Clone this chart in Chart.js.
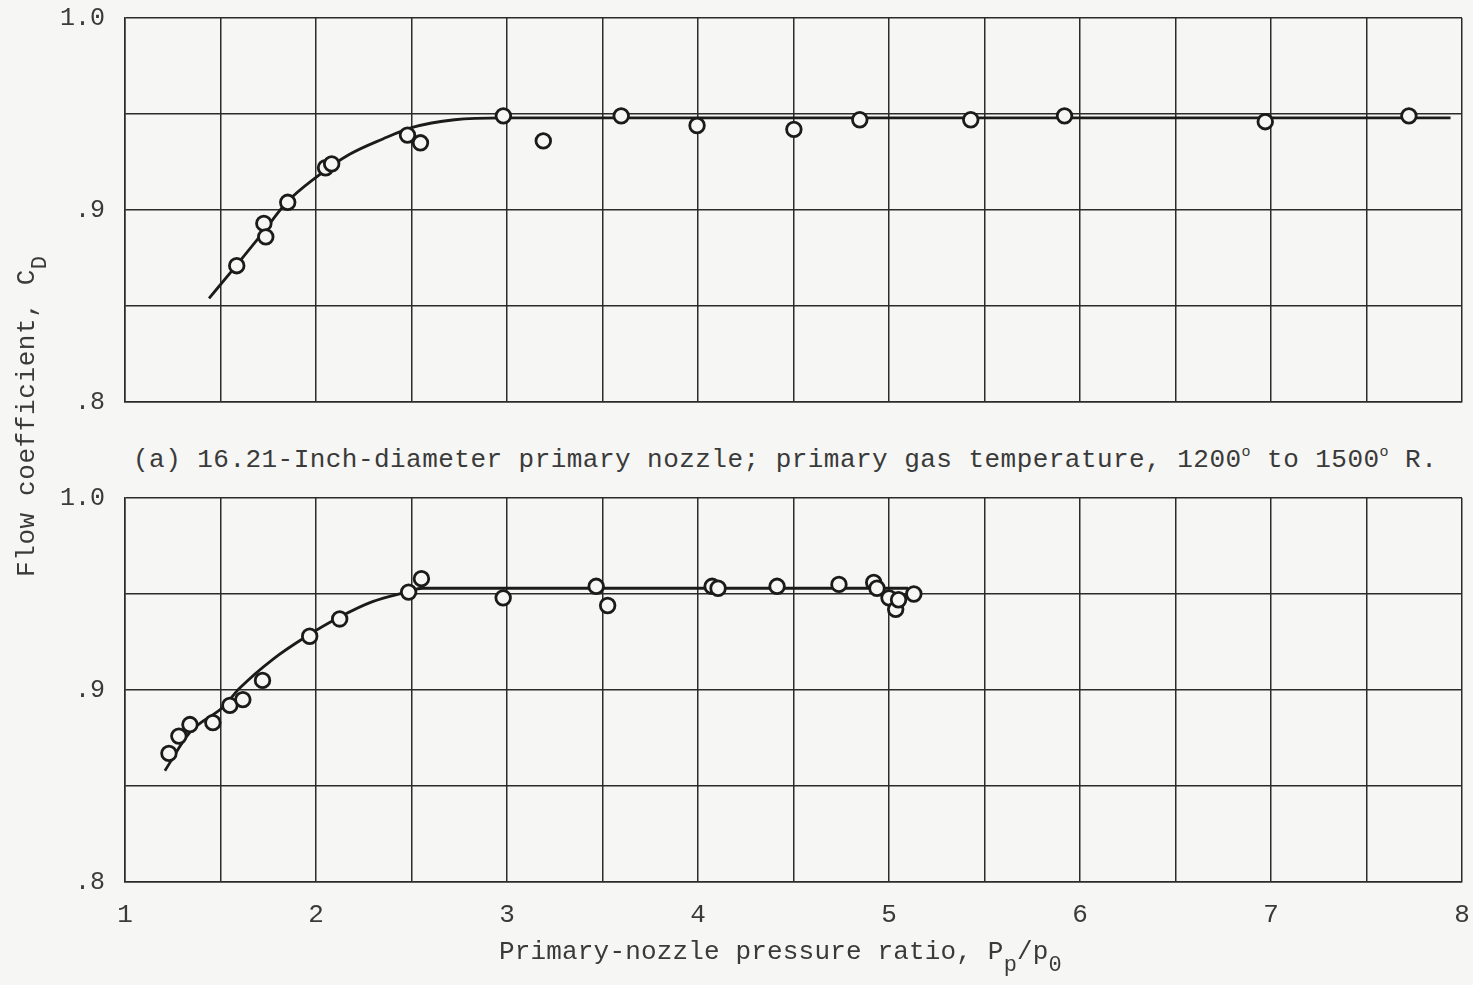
<!DOCTYPE html>
<html><head><meta charset="utf-8">
<script src="https://cdn.jsdelivr.net/npm/chart.js@4/dist/chart.umd.min.js"></script>
<style>
html,body{margin:0;padding:0;background:#f6f6f4;width:1473px;height:985px;overflow:hidden;font-family:"Liberation Mono",monospace;color:#3a3a3a;}
.cv{position:absolute;left:0;}
.txt{position:absolute;white-space:nowrap;font-size:26px;line-height:1;}
sup{font-size:15px;vertical-align:0;position:relative;top:-11px;}
sub{font-size:22px;vertical-align:0;position:relative;top:12px;}
#ytitle{transform-origin:0 0;transform:rotate(-90deg);}
</style>
</head><body>
<canvas id="c1" class="cv" width="1473" height="420" style="top:0"></canvas>
<canvas id="c2" class="cv" width="1473" height="465" style="top:480px"></canvas>
<div id="caption" class="txt" data-w="1304" style="left:133px;top:447px;">(a) 16.21-Inch-diameter primary nozzle; primary gas temperature, 1200<sup>o</sup> to 1500<sup>o</sup> R.</div>
<div id="xtitle" class="txt" data-w="563" style="left:499px;top:939px;">Primary-nozzle pressure ratio, P<sub>p</sub>/p<sub>0</sub></div>
<div id="ytitle" class="txt" data-w="322" style="left:14px;top:577px;">Flow coefficient, C<sub>D</sub></div>
<script>
// ---- data ----
const xTickValues = [1, 2, 3, 4, 5, 6, 7, 8];
const yTickValues = [0.8, 0.9, 1.0];
const yTickLabels = ['.8', '.9', '1.0'];

// Panel (a): 16.21-inch nozzle
const aPointsX = [1.585, 1.727, 1.737, 1.852, 2.05, 2.082, 2.479, 2.547, 2.981, 3.19, 3.598, 3.995, 4.502, 4.847, 5.428, 5.919, 6.97, 7.722];
const aPointsY = [0.871, 0.893, 0.886, 0.904, 0.922, 0.924, 0.939, 0.935, 0.949, 0.936, 0.949, 0.944, 0.942, 0.947, 0.947, 0.949, 0.946, 0.949];
const aCurveX = [1.44, 1.565, 1.72, 1.847, 2.0, 2.176, 2.35, 2.505, 2.725, 2.98, 7.94];
const aCurveY = [0.854, 0.869, 0.888, 0.904, 0.917, 0.929, 0.937, 0.943, 0.947, 0.948, 0.948];

// Panel (b)
const bPointsX = [1.23, 1.282, 1.34, 1.46, 1.549, 1.617, 1.72, 1.967, 2.124, 2.485, 2.552, 2.98, 3.467, 3.527, 4.074, 4.105, 4.414, 4.738, 4.92, 4.937, 5.0, 5.035, 5.05, 5.13];
const bPointsY = [0.867, 0.876, 0.882, 0.883, 0.892, 0.895, 0.905, 0.928, 0.937, 0.951, 0.958, 0.948, 0.954, 0.944, 0.954, 0.953, 0.954, 0.955, 0.956, 0.953, 0.948, 0.942, 0.947, 0.950];
const bCurveX = [1.209, 1.34, 1.512, 1.601, 1.774, 1.951, 2.124, 2.296, 2.474, 2.558, 5.10];
const bCurveY = [0.858, 0.878, 0.891, 0.901, 0.916, 0.928, 0.938, 0.946, 0.951, 0.953, 0.953];

// ---- chart building ----
const INK = '#1b1b1b';
const GRID = '#2b2b2b';
const BG = '#f6f6f4';
const zip = (xs, ys) => xs.map((x, i) => ({x: x, y: ys[i]}));

function makeChart(id, px, py, cx, cy, showX) {
  const ctx = document.getElementById(id);
  return new Chart(ctx, {
    type: 'scatter',
    data: {
      datasets: [
        {data: zip(px, py), showLine: false, pointRadius: 7.3, pointHoverRadius: 7.3,
         borderWidth: 2.8, pointBorderWidth: 2.8, borderColor: INK, pointBorderColor: INK,
         backgroundColor: BG, pointBackgroundColor: BG},
        {data: zip(cx, cy), showLine: true, pointRadius: 0, borderWidth: 2.8,
         borderColor: INK, cubicInterpolationMode: 'monotone', fill: false}
      ]
    },
    options: {
      responsive: false, animation: false, devicePixelRatio: 1,
      layout: {padding: {left: 0, right: 11, top: 18, bottom: showX ? 0 : 18}},
      plugins: {legend: {display: false}, tooltip: {enabled: false}},
      scales: {
        x: {
          type: 'linear', min: 1, max: 8,
          afterFit: s => { s.height = showX ? 63 : 0; s.paddingLeft = 0; s.paddingRight = 0; },
          border: {display: true, color: GRID, width: 1.5},
          grid: {color: GRID, lineWidth: 1.5, drawTicks: false},
          ticks: {
            display: showX, stepSize: 0.5, padding: 18, color: '#3a3a3a', maxRotation: 0, autoSkip: false,
            font: {family: '"Liberation Mono", monospace', size: 26},
            callback: v => { const i = xTickValues.findIndex(t => Math.abs(t - v) < 1e-6); return i >= 0 ? String(xTickValues[i]) : ''; }
          }
        },
        y: {
          type: 'linear', min: 0.8, max: 1.0,
          afterFit: s => { s.width = 125; s.paddingTop = 0; s.paddingBottom = 0; },
          border: {display: true, color: GRID, width: 1.5},
          grid: {color: GRID, lineWidth: 1.5, drawTicks: false},
          ticks: {
            stepSize: 0.05, padding: 20, color: '#3a3a3a', autoSkip: false,
            font: {family: '"Liberation Mono", monospace', size: 25},
            callback: v => { const i = yTickValues.findIndex(t => Math.abs(t - v) < 1e-6); return i >= 0 ? yTickLabels[i] : ''; }
          }
        }
      }
    }
  });
}

makeChart('c1', aPointsX, aPointsY, aCurveX, aCurveY, false);
makeChart('c2', bPointsX, bPointsY, bCurveX, bCurveY, true);

// fit text widths
document.querySelectorAll('.txt').forEach(el => {
  const target = +el.dataset.w;
  const n = el.textContent.length;
  const w = el.scrollWidth;
  el.style.letterSpacing = ((target - w) / n) + 'px';
});
</script>
</body></html>
